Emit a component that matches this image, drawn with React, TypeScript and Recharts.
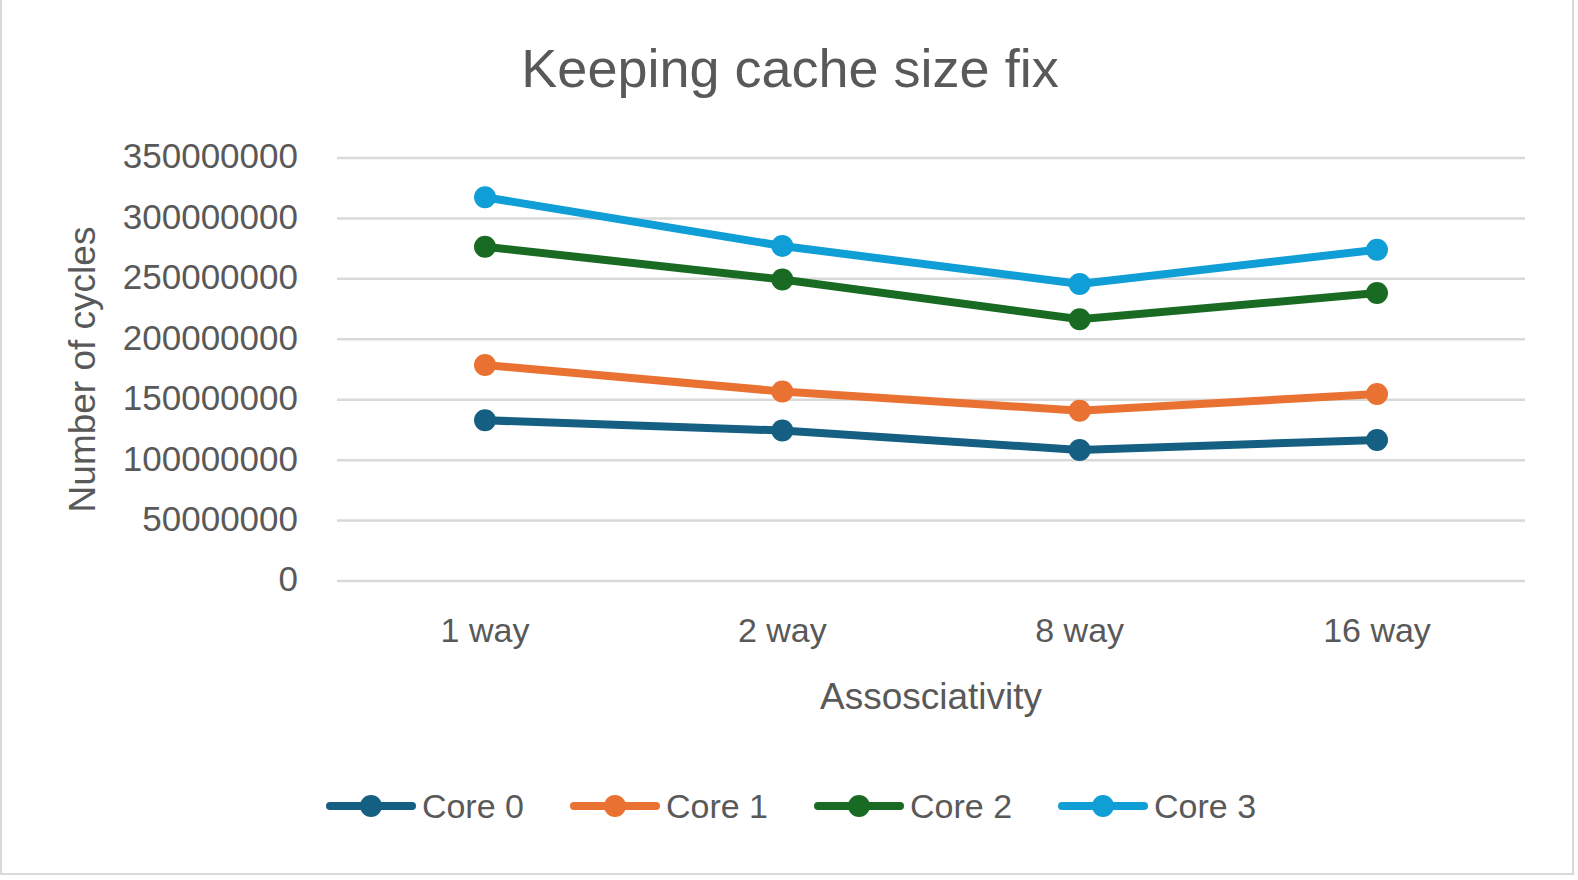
import { CartesianGrid, Line, LineChart, XAxis, YAxis } from "recharts";

const categories = ["1 way", "2 way", "8 way", "16 way"];
const core0 = [133000000, 124500000, 108400000, 116700000];
const core1 = [178700000, 156800000, 140900000, 154700000];
const core2 = [276600000, 249500000, 216600000, 238300000];
const core3 = [317500000, 277200000, 245800000, 274100000];
const yTicks = [0, 50000000, 100000000, 150000000, 200000000, 250000000, 300000000, 350000000];

const seriesNames = ["Core 0", "Core 1", "Core 2", "Core 3"];
const seriesColors = ["#156082", "#E97132", "#196B24", "#0F9ED5"];
const seriesValues = [core0, core1, core2, core3];

const data = categories.map((cat, i) => {
  const row: Record<string, string | number> = { cat };
  seriesNames.forEach((n, s) => {
    row[n] = seriesValues[s][i];
  });
  return row;
});

const TEXT = "#595959";
const FONT = "'Liberation Sans', Arial, sans-serif";

function LegendIcon({ color }: { color: string }) {
  return (
    <svg width={90} height={26} style={{ display: "block" }}>
      <line x1={4} y1={13} x2={86} y2={13} stroke={color} strokeWidth={8} strokeLinecap="round" />
      <circle cx={45} cy={13} r={11} fill={color} />
    </svg>
  );
}

export default function App() {
  return (
    <div
      style={{
        position: "absolute",
        left: 0,
        top: 0,
        width: 1578,
        height: 880,
        background: "#fff",
        fontFamily: FONT,
        overflow: "hidden",
      }}
    >
      <div
        style={{
          position: "absolute",
          left: 0,
          top: -2,
          width: 1574,
          height: 877,
          boxSizing: "border-box",
          border: "2px solid #d9d9d9",
        }}
      />
      <div
        style={{
          position: "absolute",
          left: 0,
          top: 38,
          width: 1580,
          textAlign: "center",
          fontSize: 54,
          color: TEXT,
          lineHeight: "60px",
        }}
      >
        Keeping cache size fix
      </div>
      <div style={{ position: "absolute", left: 0, top: 0 }}>
        <LineChart width={1574} height={875} data={data} margin={{ top: 158, right: 49, bottom: 164, left: 0 }}>
          <CartesianGrid vertical={false} stroke="#d9d9d9" strokeWidth={2.5} />
          <XAxis
            dataKey="cat"
            axisLine={false}
            tickLine={false}
            tickSize={0}
            tickMargin={37}
            height={130}
            padding={{ left: 148, right: 148 }}
            tick={{ fontSize: 34, fill: TEXT, fontFamily: FONT }}
            label={{ value: "Assosciativity", position: "insideBottom", offset: 2, fontSize: 37, fill: TEXT, fontFamily: FONT }}
          />
          <YAxis
            width={337}
            domain={[0, 350000000]}
            ticks={yTicks}
            interval={0}
            axisLine={false}
            tickLine={false}
            tickSize={0}
            tickMargin={39}
            tick={{ fontSize: 35, fill: TEXT, fontFamily: FONT, dy: -2 }}
            label={{
              value: "Number of cycles",
              angle: -90,
              position: "insideLeft",
              offset: 82,
              fontSize: 37,
              fill: TEXT,
              fontFamily: FONT,
              style: { textAnchor: "middle" },
            }}
          />
          {seriesNames.map((n, s) => (
            <Line
              key={n}
              type="linear"
              dataKey={n}
              stroke={seriesColors[s]}
              strokeWidth={8}
              dot={{ r: 11, fill: seriesColors[s], stroke: "none" }}
              activeDot={false}
              isAnimationActive={false}
            />
          ))}
        </LineChart>
      </div>
      <div
        style={{
          position: "absolute",
          left: 0,
          top: 788,
          width: 1582,
          display: "flex",
          justifyContent: "center",
          gap: 46,
        }}
      >
        {seriesNames.map((n, s) => (
          <div key={n} style={{ display: "flex", alignItems: "center", gap: 6 }}>
            <LegendIcon color={seriesColors[s]} />
            <span style={{ fontSize: 34, color: TEXT, lineHeight: "36px" }}>{n}</span>
          </div>
        ))}
      </div>
    </div>
  );
}
